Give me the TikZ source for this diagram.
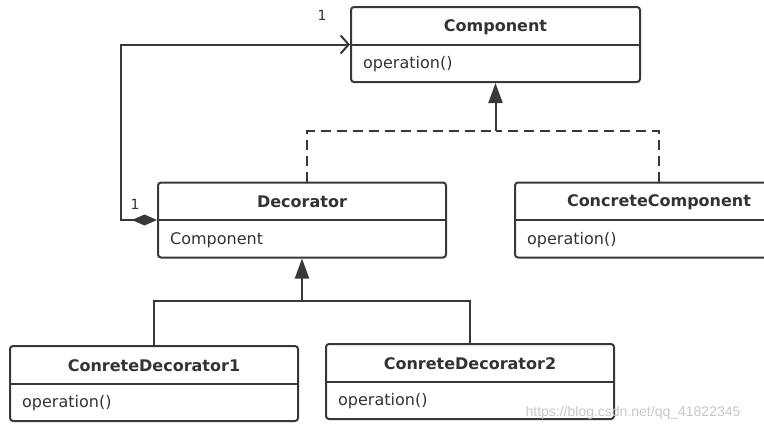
\documentclass[tikz,border=0pt]{standalone}
\usepackage{fontspec}
\setmainfont{DejaVu Sans}
\newfontfamily\wmfont{Liberation Sans}
\usetikzlibrary{arrows.meta,calc}
\definecolor{linec}{HTML}{383838}
\definecolor{textc}{HTML}{333333}
\tikzset{
  x=1pt,y=-1pt,
  cls/.style={draw=linec, line width=2pt, rounded corners=3pt, inner sep=0pt, minimum height=75pt},
  divline/.style={draw=linec, line width=2pt},
  titletext/.style={font=\fontsize{16}{18}\selectfont\bfseries, text=textc, inner sep=0pt, yshift=-1.5pt},
  membertext/.style={font=\fontsize{16}{18}\selectfont, text=textc, inner sep=0pt, anchor=west, yshift=-0.5pt},
  multtext/.style={font=\fontsize{14}{16}\selectfont, text=textc, inner sep=0pt},
  conn/.style={draw=linec, line width=2pt},
  dashconn/.style={draw=linec, line width=2pt, dash pattern=on 10pt off 6pt},
  genhead/.style={-{Triangle[length=20pt,width=14pt,fill=linec]}},
}
\begin{document}
\begin{tikzpicture}
\useasboundingbox (0,0) rectangle (764,432);
% classes
\node[cls, minimum width=289pt] (comp) at (495.5,44.5) {};
\node[cls, minimum width=288pt] (dec) at (302,220) {};
\node[cls, minimum width=288pt] (cc) at (659,220) {};
\node[cls, minimum width=288pt] (cd1) at (154,383.5) {};
\node[cls, minimum width=288pt] (cd2) at (470,381.5) {};
% dividers
\foreach \n in {comp,dec,cc,cd1,cd2} {
  \draw[divline] (\n.west) -- (\n.east);
}
% titles
\node[titletext] (compT) at ($(comp.north)!0.5!(comp.center)$) {Component};
\node[titletext] (decT) at ($(dec.north)!0.5!(dec.center)$) {Decorator};
\node[titletext] (ccT) at ($(cc.north)!0.5!(cc.center)$) {ConcreteComponent};
\node[titletext] (cd1T) at ($(cd1.north)!0.5!(cd1.center)$) {ConreteDecorator1};
\node[titletext] (cd2T) at ($(cd2.north)!0.5!(cd2.center)$) {ConreteDecorator2};
% members
\node[membertext] (compM) at ($($(comp.west)!0.5!(comp.south west)$)+(13,0)$) {operation()};
\node[membertext] (decM) at ($($(dec.west)!0.5!(dec.south west)$)+(13,0)$) {Component};
\node[membertext] (ccM) at ($($(cc.west)!0.5!(cc.south west)$)+(13,0)$) {operation()};
\node[membertext] (cd1M) at ($($(cd1.west)!0.5!(cd1.south west)$)+(13,0)$) {operation()};
\node[membertext] (cd2M) at ($($(cd2.west)!0.5!(cd2.south west)$)+(13,0)$) {operation()};
% aggregation Decorator -> Component
\coordinate (aggc) at (121,220);
\draw[conn, {Diamond[length=25pt,width=11pt,fill=linec]}-{Straight Barb[length=8pt,width=18pt,line width=2pt]}]
  (dec.west) -- (aggc) |- (comp.west);
\node[multtext] (m1) at (322,15) {1};
\node[multtext] (m2) at (135,204) {1};
% realization
\coordinate (j1) at (495.5,131);
\draw[dashconn] ([xshift=5pt]dec.north) |- (j1);
\draw[dashconn] (cc.north) |- (j1);
\draw[conn, genhead] (j1) -- (comp.south);
% inheritance
\coordinate (j2) at (302,301);
\draw[conn] (cd1.north) |- (j2);
\draw[conn] (cd2.north) |- (j2);
\draw[conn, genhead] (j2) -- (dec.south);
% watermark
\node[font=\wmfont\fontsize{14}{16}\selectfont, text=black!22, inner sep=0pt] (wm) at (633,413) {https://blog.csdn.net/qq\_41822345};
\end{tikzpicture}
\end{document}
